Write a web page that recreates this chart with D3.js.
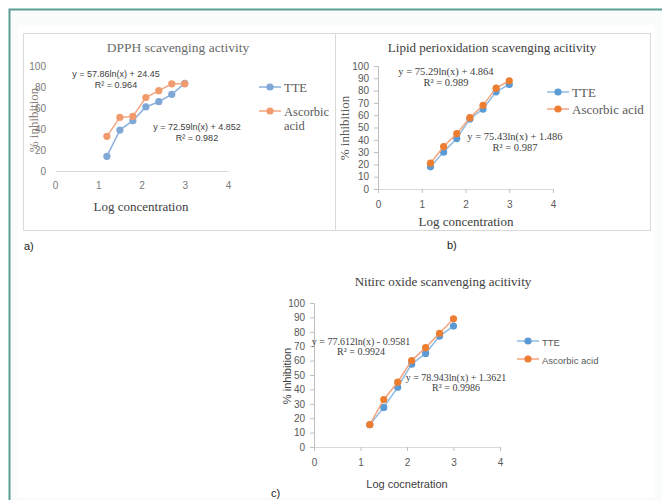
<!DOCTYPE html>
<html lang="en">
    <head>
        <meta charset="UTF-8">
        <title>Scavenging activity</title>
        <style>
            body { margin: 0; padding: 0; background: #fff; }
            svg { display: block; }
            .serif { font-family: "Liberation Serif", "DejaVu Serif", serif; }
            .sans { font-family: "Liberation Sans", Arial, sans-serif; }
        </style>
    </head>
    <body>
        <div id="chart"></div>
        <script src="https://d3js.org/d3.v7.min.js"></script>
        <script>
            // log concentration values (same for every panel)
            const logConc = [1.2, 1.5, 1.8, 2.1, 2.4, 2.7, 3.0];

            // a) DPPH
            const dpphTTE = [14, 39, 48, 61, 66, 73, 83.5];
            const dpphAscorbic = [33, 51, 52, 70, 76.5, 83, 83];
            // b) lipid peroxidation
            const lipidTTE = [18, 30, 41, 57, 65, 79, 85];
            const lipidAscorbic = [21, 34.5, 45, 58, 68, 82, 88];
            // c) nitric oxide
            const nitricTTE = [15.5, 27.5, 41.5, 57.5, 65, 77, 84];
            const nitricAscorbic = [15.5, 33, 45, 60, 69, 79, 89];

            const xTicks = [0, 1, 2, 3, 4];
            const yTicksA = [0, 20, 40, 60, 80, 100];
            const yTicksBC = [0, 10, 20, 30, 40, 50, 60, 70, 80, 90, 100];
            const seriesNames = ['TTE', 'Ascorbic acid'];

            const svg = d3.select('#chart').append('svg')
                .attr('width', 662).attr('height', 500);

            // page frame
            svg.append('rect').attr('x', 10).attr('y', 10).attr('width', 652).attr('height', 490)
                .attr('fill', '#fafcfb');
            svg.append('rect').attr('x', 18).attr('y', 25).attr('width', 637).attr('height', 473)
                .attr('fill', '#fff');
            svg.append('path').attr('d', 'M9.5,500 V9.5 H662')
                .attr('fill', 'none').attr('stroke', '#5a9e93').attr('stroke-width', 2);
            svg.append('rect').attr('x', 23.5).attr('y', 33.5).attr('width', 312).attr('height', 197)
                .attr('fill', '#fff').attr('stroke', '#d9d9d9');
            svg.append('rect').attr('x', 335.5).attr('y', 33.5).attr('width', 315).attr('height', 197)
                .attr('fill', '#fff').attr('stroke', '#d9d9d9');

            const panels = [
                {
                    tte: dpphTTE, asc: dpphAscorbic, yTicks: yTicksA,
                    x: [55, 228], y: [171, 66], showYAxis: false,
                    colors: ['#7fa8d6', '#f19a6e'], lineColors: ['#8db2dc', '#f3a57e'],
                    title: 'DPPH scavenging  activity', titleX: 178, titleY: 49, titleSize: 13.5, titleColor: '#6b6b6b',
                    xLabel: 'Log concentration', xLabelX: 141, xLabelY: 211, labelClass: 'serif', labelSize: 13,
                    yLabelX: 38, yLabelY: 120, yLabelColor: '#8a7f75',
                    tickClass: 'sans', tickSize: 10, tickColor: '#7a7a7a',
                    legendX: 259, legendY: [87, 111], legendClass: 'serif', legendSize: 12.5, legendWrap: true,
                    notes: [
                        { lines: ['y = 57.86ln(x) + 24.45', 'R² = 0.964'], x: 116, y: 77, dy: 11 },
                        { lines: ['y = 72.59ln(x) + 4.852', 'R² = 0.982'], x: 197, y: 130, dy: 11 }
                    ],
                    noteClass: 'sans', noteSize: 9, caption: 'a)', capX: 24, capY: 250
                },
                {
                    tte: lipidTTE, asc: lipidAscorbic, yTicks: yTicksBC,
                    x: [378, 553], y: [189, 66], showYAxis: true,
                    colors: ['#5b9bd5', '#ed7d31'], lineColors: ['#8fbbe3', '#f3a57e'],
                    title: 'Lipid perioxidation scavenging  acitivity', titleX: 492, titleY: 49, titleSize: 13, titleColor: '#404040',
                    xLabel: 'Log concentration', xLabelX: 466, xLabelY: 226, labelClass: 'serif', labelSize: 13,
                    yLabelX: 349, yLabelY: 128, yLabelColor: '#595959',
                    tickClass: 'sans', tickSize: 10, tickColor: '#595959',
                    legendX: 547, legendY: [92, 109], legendClass: 'serif', legendSize: 13, legendWrap: false,
                    notes: [
                        { lines: ['y = 75.29ln(x) + 4.864', 'R² = 0.989'], x: 446, y: 75, dy: 11 },
                        { lines: ['y = 75.43ln(x) + 1.486', 'R² = 0.987'], x: 515, y: 140, dy: 11 }
                    ],
                    noteClass: 'serif', noteSize: 10.5, caption: 'b)', capX: 447, capY: 249
                },
                {
                    tte: nitricTTE, asc: nitricAscorbic, yTicks: yTicksBC,
                    x: [314, 500], y: [447, 303], showYAxis: true,
                    colors: ['#5b9bd5', '#ed7d31'], lineColors: ['#8fbbe3', '#f3a57e'],
                    title: 'Nitirc oxide scanvenging  acitivity', titleX: 443, titleY: 283, titleSize: 13, titleColor: '#404040',
                    xLabel: 'Log cocnetration', xLabelX: 407, xLabelY: 488, labelClass: 'sans', labelSize: 11,
                    yLabelX: 291, yLabelY: 376, yLabelColor: '#404040',
                    tickClass: 'sans', tickSize: 10, tickColor: '#595959',
                    legendX: 517, legendY: [341, 359], legendClass: 'sans', legendSize: 9.5, legendWrap: false,
                    notes: [
                        { lines: ['y = 77.612ln(x) - 0.9581', 'R² = 0.9924'], x: 361, y: 345, dy: 10 },
                        { lines: ['y = 78.943ln(x) + 1.3621', 'R² = 0.9986'], x: 456, y: 381, dy: 10 }
                    ],
                    noteClass: 'serif', noteSize: 10, caption: 'c)', capX: 271, capY: 497
                }
            ];

            function drawPanel(p) {
                const g = svg.append('g');
                const xScale = d3.scaleLinear().domain([0, 4]).range(p.x);
                const yScale = d3.scaleLinear().domain([0, 100]).range(p.y);

                // x axis
                const xAxis = g.append('g')
                    .attr('transform', `translate(0, ${p.y[0]})`)
                    .call(d3.axisBottom(xScale).tickValues(xTicks).tickFormat(d3.format('d'))
                        .tickSize(p.showYAxis ? 4 : 0).tickPadding(p.showYAxis ? 8 : 11));
                xAxis.select('.domain').attr('stroke', '#d9d9d9');
                xAxis.selectAll('line').attr('stroke', '#bfbfbf');

                // y axis
                const yAxis = g.append('g')
                    .attr('transform', `translate(${p.x[0]}, 0)`)
                    .call(d3.axisLeft(yScale).tickValues(p.yTicks)
                        .tickSize(p.showYAxis ? 4 : 0).tickPadding(p.showYAxis ? 5 : 9));
                if (p.showYAxis) {
                    yAxis.select('.domain').attr('stroke', '#bfbfbf');
                    yAxis.selectAll('line').attr('stroke', '#bfbfbf');
                } else {
                    yAxis.select('.domain').remove();
                }

                g.selectAll('.tick text')
                    .attr('class', p.tickClass)
                    .style('font-size', p.tickSize + 'px')
                    .attr('fill', p.tickColor);

                // title & labels
                g.append('text').attr('class', 'serif')
                    .attr('x', p.titleX).attr('y', p.titleY).attr('text-anchor', 'middle')
                    .attr('dominant-baseline', 'middle')
                    .style('font-size', p.titleSize + 'px').attr('fill', p.titleColor)
                    .text(p.title);
                g.append('text').attr('class', p.labelClass)
                    .attr('x', p.xLabelX).attr('y', p.xLabelY).attr('text-anchor', 'middle')
                    .style('font-size', p.labelSize + 'px').attr('fill', '#404040')
                    .text(p.xLabel);
                g.append('text').attr('class', p.labelClass)
                    .attr('transform', `translate(${p.yLabelX}, ${p.yLabelY}) rotate(-90)`)
                    .attr('text-anchor', 'middle')
                    .style('font-size', p.labelSize + 'px').attr('fill', p.yLabelColor)
                    .text('% inhibition');

                // series
                const line = d3.line().x((d, i) => xScale(logConc[i])).y(d => yScale(d));
                [p.tte, p.asc].forEach((vals, k) => {
                    g.append('path').datum(vals)
                        .attr('d', line).attr('fill', 'none')
                        .attr('stroke', p.lineColors[k]).attr('stroke-width', 1.5);
                    g.selectAll(null).data(vals).enter().append('circle')
                        .attr('cx', (d, i) => xScale(logConc[i]))
                        .attr('cy', d => yScale(d))
                        .attr('r', 3.6)
                        .attr('fill', p.colors[k]);
                });

                // regression notes
                p.notes.forEach(n => {
                    const t = g.append('text').attr('class', p.noteClass)
                        .attr('text-anchor', 'middle')
                        .style('font-size', p.noteSize + 'px').attr('fill', '#404040');
                    n.lines.forEach((s, i) => {
                        t.append('tspan').attr('x', n.x).attr('y', n.y + i * n.dy).text(s);
                    });
                });

                // legend
                seriesNames.forEach((name, k) => {
                    const ly = p.legendY[k];
                    g.append('line').attr('x1', p.legendX).attr('x2', p.legendX + 22)
                        .attr('y1', ly).attr('y2', ly)
                        .attr('stroke', p.lineColors[k]).attr('stroke-width', 1.5);
                    g.append('circle').attr('cx', p.legendX + 11).attr('cy', ly).attr('r', 3.6)
                        .attr('fill', p.colors[k]);
                    if (p.legendWrap && name.includes(' ')) {
                        // wrapped onto two lines, as separate texts
                        name.split(' ').forEach((part, j) => {
                            g.append('text').attr('class', p.legendClass)
                                .style('font-size', p.legendSize + 'px').attr('fill', '#595959')
                                .attr('x', p.legendX + 25).attr('y', ly + 4.5 + j * 14.5)
                                .text(part);
                        });
                    } else {
                        g.append('text').attr('class', p.legendClass)
                            .style('font-size', p.legendSize + 'px').attr('fill', '#595959')
                            .attr('x', p.legendX + 25).attr('y', ly + 4.5).text(name);
                    }
                });

                // caption
                svg.append('text').attr('class', 'sans')
                    .attr('x', p.capX).attr('y', p.capY)
                    .style('font-size', '11px').attr('fill', '#222')
                    .text(p.caption);
            }

            panels.forEach(drawPanel);
        </script>
    </body>
</html>
